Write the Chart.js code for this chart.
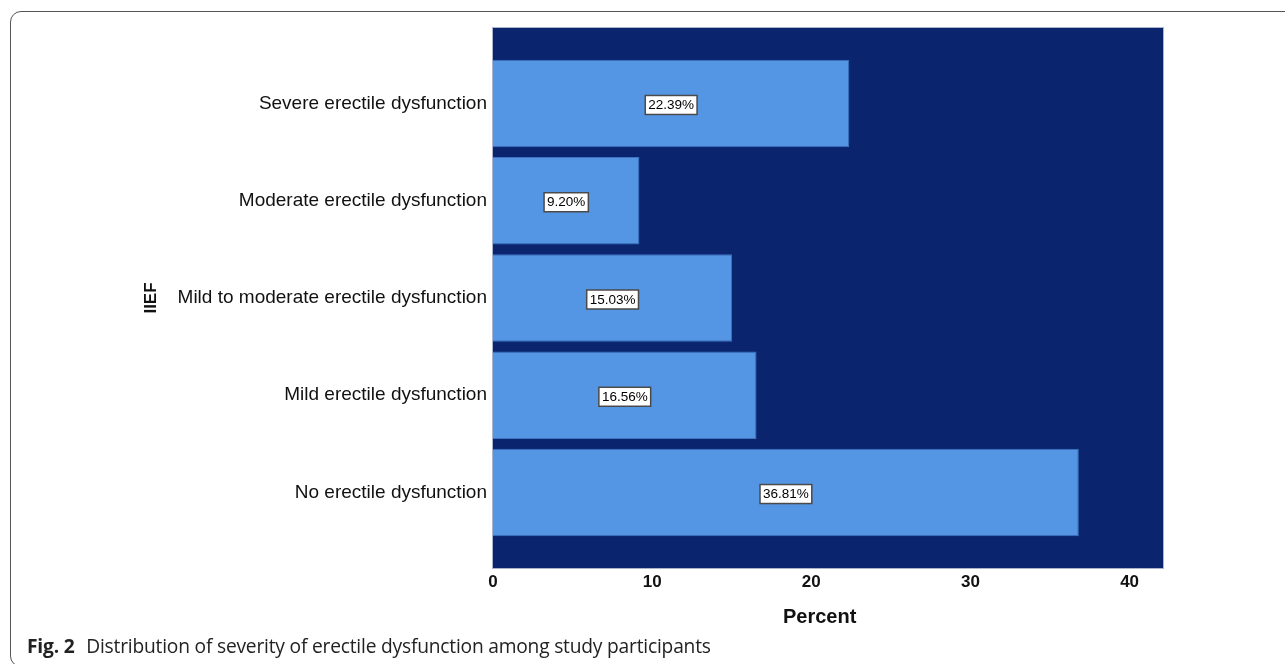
<!DOCTYPE html>
<html>
<head>
<meta charset="utf-8">
<script src="https://cdn.jsdelivr.net/npm/chart.js@4.4.1/dist/chart.umd.min.js"></script>
<style>
  html, body { margin: 0; padding: 0; background: #ffffff; }
  #wrap { position: relative; width: 1285px; height: 664px; overflow: hidden; }
  #frame { position: absolute; left: 10px; top: 11px; width: 1320px; height: 656px;
           border: 1.5px solid #555; border-radius: 11px; box-sizing: border-box; }
  #chart { position: absolute; left: 0; top: 0; width: 1285px; height: 664px; }
  #caption { position: absolute; left: 27px; top: 632px; font-family: "Open Sans", sans-serif;
             font-size: 19.2px; color: #222; white-space: nowrap; letter-spacing: -0.2px; }
  #caption b { font-weight: 700; margin-right: 7px; }
</style>
</head>
<body>
<div id="wrap">
  <div id="frame"></div>
  <canvas id="chart" width="1285" height="664"></canvas>
  <div id="caption"><b>Fig. 2</b> Distribution of severity of erectile dysfunction among study participants</div>
</div>
<script>
const categories = [
  "Severe erectile dysfunction",
  "Moderate erectile dysfunction",
  "Mild to moderate erectile dysfunction",
  "Mild erectile dysfunction",
  "No erectile dysfunction"
];
const percentValues = [22.39, 9.20, 15.03, 16.56, 36.81];
const percentLabels = ["22.39%", "9.20%", "15.03%", "16.56%", "36.81%"];
const xTickValues = [0, 10, 20, 30, 40];

const plotBg = {
  id: 'plotBg',
  beforeDatasetsDraw(chart) {
    const {ctx, chartArea: a} = chart;
    ctx.save();
    ctx.fillStyle = '#0a246e';
    ctx.fillRect(a.left, a.top, a.right - a.left, a.bottom - a.top);
    ctx.strokeStyle = '#aab4cc';
    ctx.lineWidth = 1;
    ctx.strokeRect(a.left - 0.5, a.top - 0.5, a.right - a.left + 1, a.bottom - a.top + 1);
    ctx.restore();
  }
};

const valueBoxes = {
  id: 'valueBoxes',
  afterDatasetsDraw(chart) {
    const {ctx} = chart;
    const meta = chart.getDatasetMeta(0);
    ctx.save();
    ctx.font = '13.5px "Liberation Sans", Arial, sans-serif';
    ctx.textAlign = 'center';
    ctx.textBaseline = 'middle';
    meta.data.forEach((bar, i) => {
      const p = bar.getProps(['x', 'y', 'base'], true);
      const cx = (p.x + p.base) / 2;
      const cy = p.y + 1.5;
      const txt = percentLabels[i];
      const w = ctx.measureText(txt).width + 6;
      const h = 19;
      ctx.fillStyle = '#ffffff';
      ctx.fillRect(cx - w / 2, cy - h / 2, w, h);
      ctx.strokeStyle = '#4a4a4a';
      ctx.lineWidth = 1.5;
      ctx.strokeRect(cx - w / 2, cy - h / 2, w, h);
      ctx.fillStyle = '#000000';
      ctx.fillText(txt, cx, cy + 0.5);
    });
    ctx.restore();
  }
};

new Chart(document.getElementById('chart'), {
  type: 'bar',
  data: {
    datasets: [{
      data: categories.map((c, i) => ({ x: percentValues[i], y: i })),
      backgroundColor: '#5596e4',
      borderColor: '#3f73c0',
      borderWidth: 1,
      barPercentage: 0.9,
      categoryPercentage: 1.0
    }]
  },
  options: {
    indexAxis: 'y',
    responsive: false,
    animation: false,
    devicePixelRatio: 1,
    layout: { padding: { left: 130, top: 28, right: 122, bottom: 0 } },
    plugins: { legend: { display: false }, tooltip: { enabled: false } },
    scales: {
      y: {
        type: 'linear',
        reverse: true,
        offset: false,
        min: -0.776,
        max: 4.776,
        afterFit(s) { s.width = 363; },
        afterBuildTicks(s) { s.ticks = categories.map((c, i) => ({ value: i })); },
        grid: { display: false, drawTicks: false, offset: false },
        border: { display: false },
        ticks: {
          padding: 6,
          color: '#111',
          font: { family: '"Liberation Sans", Arial, sans-serif', size: 19 },
          callback: (v) => categories[v]
        },
        title: {
          display: true,
          text: 'IIEF',
          color: '#111',
          padding: { top: 11, bottom: 0 },
          font: { family: '"Liberation Sans", Arial, sans-serif', size: 17, weight: 'bold' }
        }
      },
      x: {
        type: 'linear',
        min: 0,
        max: 42.1,
        afterFit(s) { s.height = 96; },
        afterBuildTicks(s) { s.ticks = xTickValues.map(v => ({ value: v })); },
        grid: { display: false, drawTicks: false },
        border: { display: false },
        ticks: {
          padding: 4,
          color: '#111',
          maxRotation: 0,
          font: { family: '"Liberation Sans", Arial, sans-serif', size: 17, weight: 'bold' }
        },
        title: {
          display: true,
          text: 'Percent   ',
          color: '#111',
          padding: { top: 0, bottom: 35 },
          font: { family: '"Liberation Sans", Arial, sans-serif', size: 20, weight: 'bold' }
        }
      }
    }
  },
  plugins: [plotBg, valueBoxes]
});
</script>
</body>
</html>
